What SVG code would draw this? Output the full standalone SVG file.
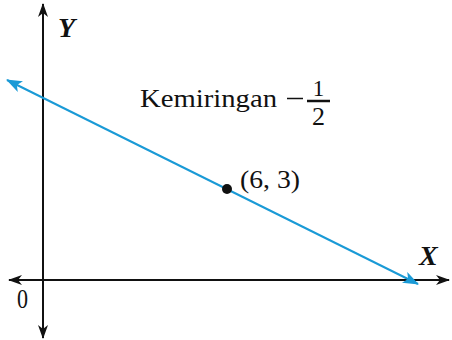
<svg xmlns="http://www.w3.org/2000/svg" width="452" height="340" viewBox="0 0 452 340">
<style>
.ax{stroke:#111;stroke-width:2;fill:none}
.ln{stroke:#1a9ad6;stroke-width:2;fill:none}
.t{font-family:"Liberation Serif","DejaVu Serif",serif;fill:#111}
.lab{font-family:"Liberation Serif","DejaVu Serif",serif;font-style:italic;font-weight:bold;font-size:28px;fill:#111}
</style>
<defs>
<marker id="ak" viewBox="0 0 14 10" refX="13" refY="5" markerWidth="14" markerHeight="10" markerUnits="userSpaceOnUse" orient="auto-start-reverse">
<path d="M0,0 L14,5 L0,10 L4,5 Z" fill="#111"/>
</marker>
<marker id="ab" viewBox="0 0 16 12" refX="15" refY="6" markerWidth="16" markerHeight="12" markerUnits="userSpaceOnUse" orient="auto-start-reverse">
<path d="M0,0 L16,6 L0,12 L4,6 Z" fill="#1a9ad6"/>
</marker>
</defs>
<g id="connectors">
<line class="ax" x1="43" y1="338" x2="43" y2="4" marker-start="url(#ak)" marker-end="url(#ak)"/>
<line class="ax" x1="9" y1="280" x2="449" y2="280" marker-start="url(#ak)" marker-end="url(#ak)"/>
<line class="ln" x1="7" y1="80" x2="418" y2="284" marker-start="url(#ab)" marker-end="url(#ab)"/>
</g>
<g id="point">
<circle cx="227" cy="189" r="5" fill="#111"/>
<text class="t" x="240" y="188" font-size="25" textLength="60" lengthAdjust="spacingAndGlyphs">(6, 3)</text>
</g>
<g id="labels">
<text class="lab" x="58" y="37">Y</text>
<text class="lab" x="419" y="265">X</text>
<text class="t" x="17" y="308" font-size="28" textLength="11" lengthAdjust="spacingAndGlyphs">0</text>
<text class="t" x="140" y="107" font-size="26" textLength="137" lengthAdjust="spacingAndGlyphs">Kemiringan</text>
<line x1="287" y1="98.5" x2="303" y2="98.5" stroke="#111" stroke-width="1.5"/>
<text class="t" x="318.5" y="96" font-size="23" text-anchor="middle">1</text>
<line x1="307" y1="101" x2="330" y2="101" stroke="#111" stroke-width="2.5"/>
<text class="t" x="318.5" y="125" font-size="26" text-anchor="middle">2</text>
</g>
</svg>
